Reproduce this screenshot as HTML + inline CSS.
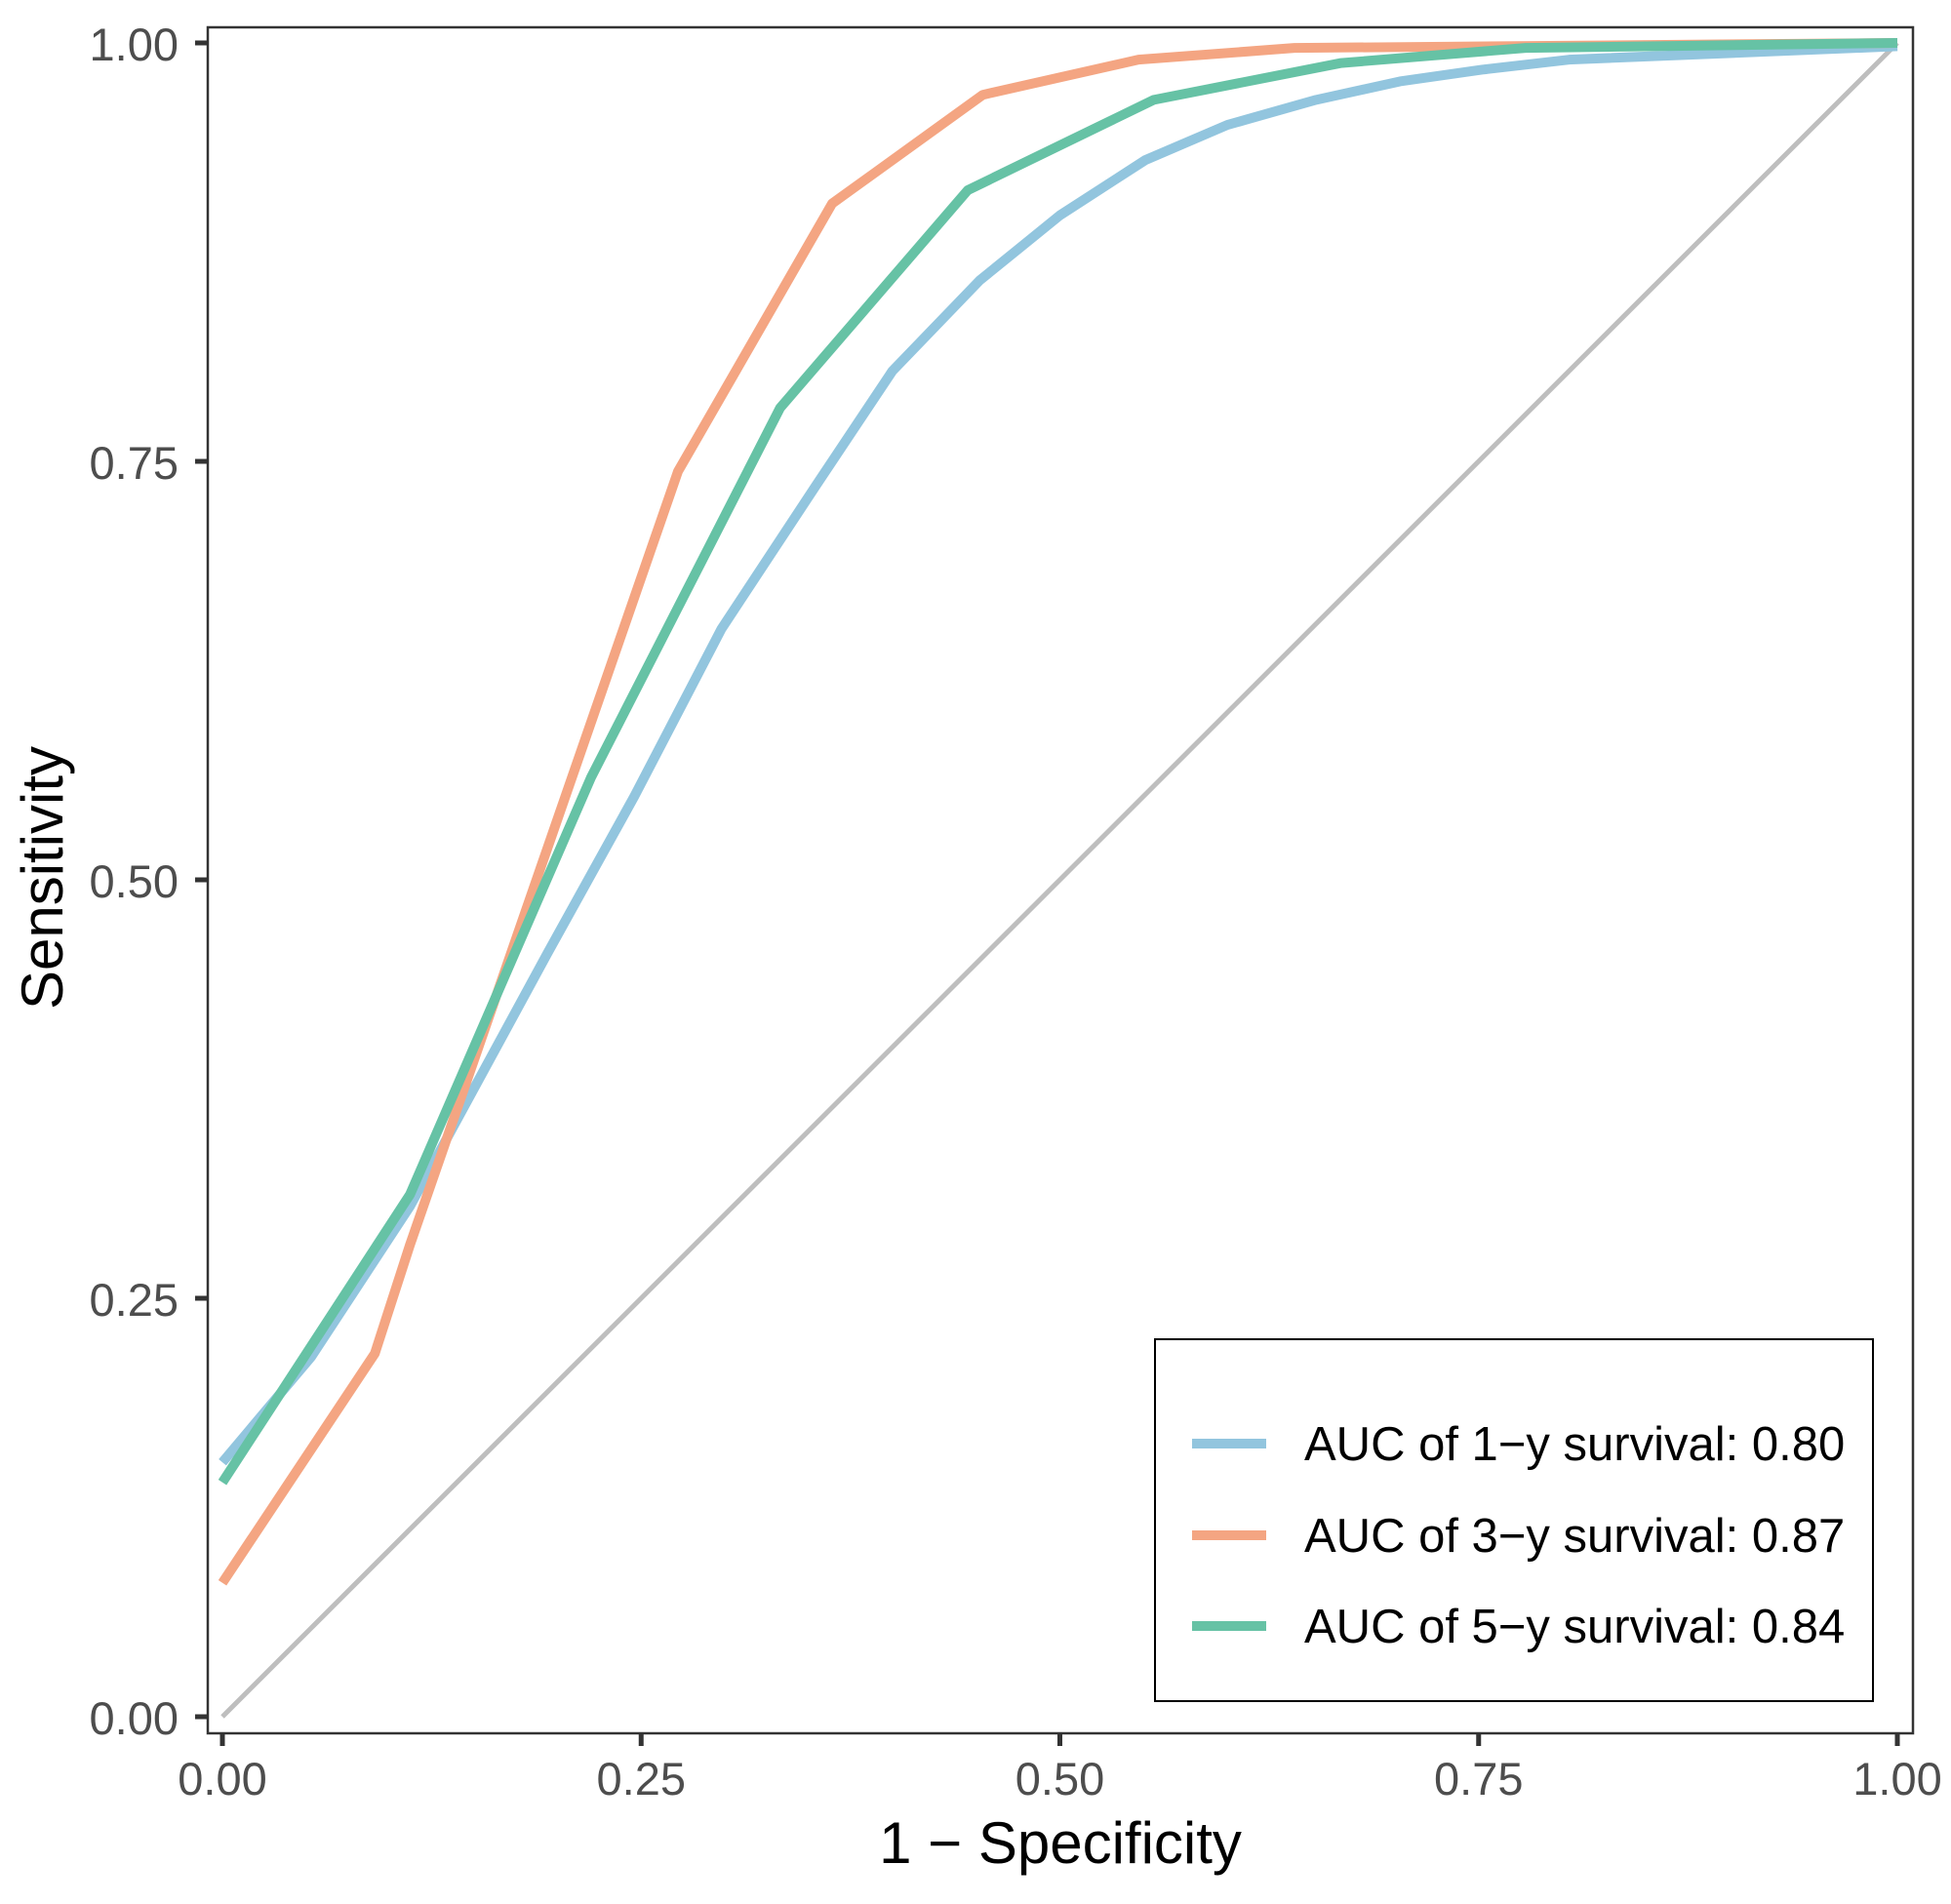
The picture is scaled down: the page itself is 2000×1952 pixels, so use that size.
<!DOCTYPE html>
<html><head><meta charset="utf-8"><style>
html,body{margin:0;padding:0;background:#fff;}
svg{display:block;font-family:"Liberation Sans",Arial,sans-serif;}
</style></head><body>
<svg id="chart" width="2000" height="1952" viewBox="0 0 2000 1952">
<rect x="213" y="28" width="1748" height="1749" fill="#fff" stroke="#333" stroke-width="2.5"/>
<g id="ticks"></g>
<g id="series"></g>
<text x="1087" y="1910" font-size="60" text-anchor="middle" fill="#000">1 − Specificity</text>
<text transform="translate(64,900) rotate(-90)" font-size="60" text-anchor="middle" fill="#000">Sensitivity</text>
<g>
<rect x="1184" y="1373" width="736" height="371" fill="#fff" stroke="#000" stroke-width="2"/>
<g id="legend-entries"></g>
</g>
</svg>
<script>
const xTicks=[0,0.25,0.5,0.75,1];
const yTicks=[0,0.25,0.5,0.75,1];
const tickLabels=["0.00","0.25","0.50","0.75","1.00"];
const seriesNames=["AUC of 1−y survival: 0.80","AUC of 3−y survival: 0.87","AUC of 5−y survival: 0.84"];
const fpr1=[0,0.053,0.112,0.194,0.246,0.298,0.354,0.4,0.452,0.5,0.551,0.6,0.653,0.703,0.752,0.804,1];
const tpr1=[0.152,0.215,0.305,0.456,0.55,0.65,0.735,0.804,0.858,0.897,0.93,0.951,0.966,0.977,0.984,0.99,0.998];
const fpr3=[0,0.091,0.112,0.272,0.364,0.454,0.547,0.64,1];
const tpr3=[0.08,0.217,0.282,0.744,0.904,0.969,0.99,0.997,1];
const fpr5=[0,0.112,0.22,0.333,0.445,0.556,0.668,0.778,1];
const tpr5=[0.14,0.312,0.561,0.782,0.912,0.966,0.988,0.997,1];
const NS="http://www.w3.org/2000/svg";
const X0=228,X1=1945,Y0=1760,Y1=44;
const sx=v=>X0+v*(X1-X0), sy=v=>Y0-v*(Y0-Y1);
function mk(t,a,p){const e=document.createElementNS(NS,t);for(const k in a)e.setAttribute(k,a[k]);p.appendChild(e);return e;}
const tg=document.getElementById('ticks');
xTicks.forEach((v,i)=>{
 const l=mk('line',{x1:sx(v),x2:sx(v),y1:1777,y2:1790,stroke:'#333','stroke-width':5},tg);
 
 
 const t=mk('text',{x:sx(v),y:1840,'font-size':47,'text-anchor':'middle',fill:'#4d4d4d'},tg);t.textContent=tickLabels[i];
 
 
});
yTicks.forEach((v,i)=>{
 const l=mk('line',{x1:200,x2:213,y1:sy(v),y2:sy(v),stroke:'#333','stroke-width':5},tg);
 
 
 const t=mk('text',{x:183,y:sy(v)+18,'font-size':47,'text-anchor':'end',fill:'#4d4d4d'},tg);t.textContent=tickLabels[i];
 
 
});
const sg=document.getElementById('series');
const d=mk('line',{x1:sx(0),y1:sy(0),x2:sx(1),y2:sy(1),stroke:'#bebebe','stroke-width':5},sg);


const cols=["#92c5de","#f4a582","#66c2a5"];
const xs=[fpr1,fpr3,fpr5], ys=[tpr1,tpr3,tpr5];
xs.forEach((xa,k)=>{
 const pts=xa.map((v,i)=>sx(v)+','+sy(ys[k][i])).join(' ');
 const p=mk('polyline',{points:pts,fill:'none',stroke:cols[k],'stroke-width':10,'stroke-linejoin':'round'},sg);
 
 
});
const lg=document.getElementById('legend-entries');
const ly=[1480,1574,1667];
seriesNames.forEach((n,k)=>{
 const l=mk('line',{x1:1222,x2:1298,y1:ly[k],y2:ly[k],stroke:cols[k],'stroke-width':10},lg);
 
 
 const t=mk('text',{x:1337,y:ly[k]+17,'font-size':49,fill:'#000'},lg);t.textContent=n;
 
 
});
</script>
</body></html>
